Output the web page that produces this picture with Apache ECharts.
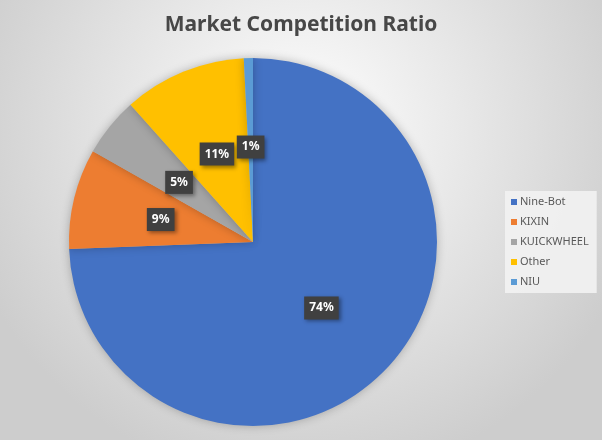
<!DOCTYPE html>
<html lang="en">

<head>
  <meta charset="UTF-8">
  <title>Market Competition Ratio</title>
  <script src="https://cdn.jsdelivr.net/npm/echarts@6/dist/echarts.min.js"></script>
  <style>
    html, body { margin: 0; padding: 0; }
  </style>
</head>

<body>
  <div id="main" style="width: 602px;height:440px;"></div>

  <script>
    // 品牌和份额(从图上读的)
    var brands = ['Nine-Bot', 'KIXIN', 'KUICKWHEEL', 'Other', 'NIU']
    var shares = [74.4, 8.8, 5.2, 10.8, 0.8]
    var colors = ['#4472C4', '#ED7D31', '#A5A5A5', '#FFC000', '#5B9BD5']

    var pieData = brands.map(function (name, i) {
      return { name: name, value: shares[i] }
    })

    var mCharts = echarts.init(document.getElementById('main'))
    var option = {
      backgroundColor: {
        type: 'radial', x: 0.5, y: 0.3, r: 0.8,
        colorStops: [
          { offset: 0, color: '#ffffff' },
          { offset: 1, color: '#cdcdcd' }
        ]
      },
      color: colors,
      title: {
        text: 'Market Competition Ratio',
        left: 'center',
        top: 10,
        textStyle: {
          fontFamily: 'Noto Sans',
          fontSize: 21,
          fontWeight: 'bold',
          color: '#474747'
        }
      },
      legend: {
        orient: 'vertical',
        left: 505,
        top: 191,
        padding: [4, 8, 4, 6],
        backgroundColor: 'rgba(242,242,242,0.9)',
        icon: 'rect',
        itemWidth: 6,
        itemHeight: 6,
        itemGap: 6,
        textStyle: {
          fontFamily: 'Noto Sans',
          fontSize: 11,
          lineHeight: 14,
          color: '#595959',
          padding: [0, 0, 0, -2]
        },
        data: brands
      },
      series: [
        {
          type: 'pie',
          center: [253, 242],
          radius: 184,
          startAngle: 90,
          clockwise: true,
          avoidLabelOverlap: false,
          data: pieData,
          itemStyle: {
            shadowBlur: 10,
            shadowColor: 'rgba(0,0,0,0.25)'
          },
          label: {
            show: true,
            position: 'inside',
            formatter: function (p) { return Math.round(p.value) + '%' },
            fontFamily: 'Noto Sans',
            fontSize: 12,
            fontWeight: 'bold',
            color: '#ffffff',
            backgroundColor: '#404040',
            padding: [6, 5, 5, 5],
            shadowBlur: 4,
            shadowOffsetX: 2,
            shadowOffsetY: 2,
            shadowColor: 'rgba(0,0,0,0.4)'
          },
          labelLine: { show: false },
          emphasis: { disabled: true }
        }
      ]
    }
    mCharts.setOption(option)
  </script>
</body>

</html>
